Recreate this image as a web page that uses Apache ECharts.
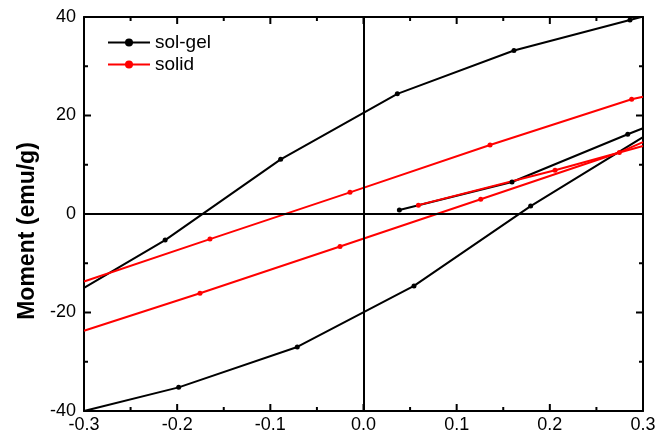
<!DOCTYPE html>
<html>
<head>
<meta charset="utf-8">
<script src="https://cdn.jsdelivr.net/npm/echarts@6/dist/echarts.min.js"></script>
<style>
  html, body { margin: 0; padding: 0; background: #fff; }
  #chart { width: 669px; height: 438px; }
</style>
</head>
<body>
<div id="chart"></div>
<script>
// tick labels
const xTicks = ['-0.3', '-0.2', '-0.1', '0.0', '0.1', '0.2', '0.3']
const yTicks = ['-40', '-20', '0', '20', '40']
const xMinorTicks = [-0.25, -0.15, -0.05, 0.05, 0.15, 0.25]
const yMinorTicks = [-30, -10, 10, 30]

// sol-gel loop (x = field, y = moment); "edge" points are where a line leaves the frame
const solGelInitial = [[0.0385, 0.8], [0.1594, 6.5], [0.2836, 16.2]]
const solGelInitialEdge = [0.3, 17.4]
const solGelDown = [[0.286, 39.4], [0.1615, 33.2], [0.0363, 24.4], [-0.0889, 11.1], [-0.2129, -5.3]]
const solGelDownEdge = [[0.3, 40.1], [-0.3, -15.0]]
const solGelUp = [[-0.1984, -35.2], [-0.0711, -27.0], [0.0542, -14.6], [0.1794, 1.6]]
const solGelUpEdge = [[-0.3, -40.0], [0.3, 15.6]]

// solid loop
const solidInitial = [[0.0589, 1.8], [0.2056, 8.9]]
const solidInitialEdge = [0.3, 13.8]
const solidDown = [[0.2878, 23.3], [0.1358, 14.0], [-0.0145, 4.4], [-0.1648, -5.1]]
const solidDownEdge = [[0.3, 23.8], [-0.3, -13.7]]
const solidUp = [[-0.1755, -16.1], [-0.0252, -6.6], [0.1258, 3.0], [0.2746, 12.5]]
const solidUpEdge = [[-0.3, -23.7], [0.3, 14.6]]

const FONT = '"Liberation Sans", Arial, sans-serif'
const X_MIN = -0.3, X_MAX = 0.3, Y_MIN = -40, Y_MAX = 40

const noSym = p => ({ value: p, symbol: 'none' })
const withEdges = (pts, start, end) => {
  const out = pts.slice()
  if (start) out.unshift(noSym(start))
  if (end) out.push(noSym(end))
  return out
}

const lineSeries = (name, color, data) => ({
  name: name,
  type: 'line',
  data: data,
  symbol: 'circle',
  symbolSize: 5,
  lineStyle: { color: color, width: 2 },
  itemStyle: { color: color }
})

const frameAxis = extra => Object.assign({
  type: 'value',
  axisLine: { show: true, onZero: false, lineStyle: { color: '#000', width: 2 } },
  axisTick: { show: false },
  splitLine: { show: false }
}, extra)

// inward tick marks on all four sides: [side (0 = x, 1 = y), value, length]
const tickData = []
xTicks.forEach(t => tickData.push([0, Number(t), 7]))
xMinorTicks.forEach(v => tickData.push([0, v, 4]))
yTicks.forEach(t => tickData.push([1, Number(t), 7]))
yMinorTicks.forEach(v => tickData.push([1, v, 4]))

const tickStyle = { stroke: '#000', lineWidth: 2 }
const renderTick = (params, api) => {
  const side = api.value(0)
  const v = api.value(1)
  const len = api.value(2)
  let a, b
  if (side === 0) {
    a = api.coord([v, Y_MIN])
    b = api.coord([v, Y_MAX])
    return {
      type: 'group',
      children: [
        { type: 'line', shape: { x1: a[0], y1: a[1], x2: a[0], y2: a[1] - len }, style: tickStyle },
        { type: 'line', shape: { x1: b[0], y1: b[1], x2: b[0], y2: b[1] + len }, style: tickStyle }
      ]
    }
  }
  a = api.coord([X_MIN, v])
  b = api.coord([X_MAX, v])
  return {
    type: 'group',
    children: [
      { type: 'line', shape: { x1: a[0], y1: a[1], x2: a[0] + len, y2: a[1] }, style: tickStyle },
      { type: 'line', shape: { x1: b[0], y1: b[1], x2: b[0] - len, y2: b[1] }, style: tickStyle }
    ]
  }
}

const chart = echarts.init(document.getElementById('chart'))

const option = {
  animation: false,
  grid: { left: 84, right: 26, top: 17, bottom: 27 },
  legend: {
    data: ['sol-gel', 'solid'],
    orient: 'vertical',
    left: 102,
    top: 28,
    itemWidth: 42,
    itemHeight: 10,
    itemGap: 3,
    textStyle: { fontFamily: FONT, fontSize: 19, color: '#000' }
  },
  xAxis: [
    frameAxis({
      min: X_MIN, max: X_MAX, interval: 0.1,
      axisLabel: {
        fontFamily: FONT, fontSize: 18, color: '#000', margin: 5,
        formatter: v => xTicks[Math.round((v - X_MIN) * 10)]
      }
    }),
    frameAxis({ position: 'top', min: X_MIN, max: X_MAX, interval: 0.1, axisLabel: { show: false } })
  ],
  yAxis: [
    frameAxis({
      min: Y_MIN, max: Y_MAX, interval: 20,
      name: 'Moment (emu/g)',
      nameLocation: 'middle',
      nameGap: 45,
      nameTextStyle: { fontFamily: FONT, fontSize: 23, fontWeight: 'bold', color: '#000', padding: [0, 34, 0, 0] },
      axisLabel: {
        fontFamily: FONT, fontSize: 18, color: '#000', margin: 8,
        formatter: v => yTicks[Math.round((v - Y_MIN) / 20)]
      }
    }),
    frameAxis({ position: 'right', min: Y_MIN, max: Y_MAX, interval: 20, axisLabel: { show: false } })
  ],
  series: [
    Object.assign(lineSeries('sol-gel', '#000', withEdges(solGelInitial, null, solGelInitialEdge)), {
      markLine: {
        silent: true,
        symbol: 'none',
        label: { show: false },
        lineStyle: { color: '#000', width: 2, type: 'solid' },
        data: [{ xAxis: 0 }, { yAxis: 0 }]
      }
    }),
    lineSeries('sol-gel', '#000', withEdges(solGelDown, solGelDownEdge[0], solGelDownEdge[1])),
    lineSeries('sol-gel', '#000', withEdges(solGelUp, solGelUpEdge[0], solGelUpEdge[1])),
    lineSeries('solid', '#ff0000', withEdges(solidInitial, null, solidInitialEdge)),
    lineSeries('solid', '#ff0000', withEdges(solidDown, solidDownEdge[0], solidDownEdge[1])),
    lineSeries('solid', '#ff0000', withEdges(solidUp, solidUpEdge[0], solidUpEdge[1])),
    {
      name: 'ticks',
      type: 'custom',
      silent: true,
      clip: false,
      renderItem: renderTick,
      data: tickData
    }
  ]
}

chart.setOption(option)
</script>
</body>
</html>
